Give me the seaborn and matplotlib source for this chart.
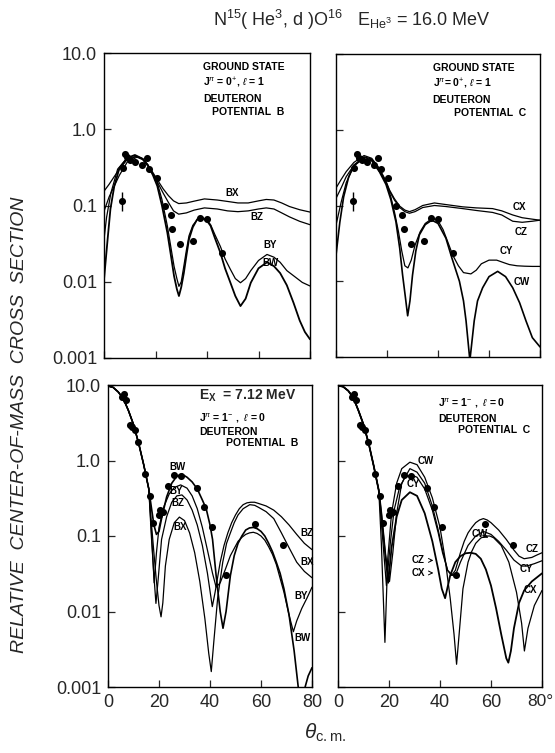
import matplotlib
matplotlib.use("Agg")
import matplotlib.pyplot as plt
import seaborn as sns

###########
# Data    #
###########
# Measured points, ground state (both top panels)
top_theta = [6.8, 7.2, 8.1, 9.1, 10.2, 12.0, 14.8, 16.6, 17.5, 20.5, 23.6, 25.9, 26.5, 29.4, 34.7, 37.2, 40.1, 45.9]
top_sigma = [0.114, 0.31, 0.48, 0.43, 0.40, 0.37, 0.34, 0.42, 0.30, 0.23, 0.098, 0.076, 0.0485, 0.031, 0.034, 0.068, 0.066, 0.0235]
top_err_theta = [6.8]
top_err_lo = [0.084]
top_err_hi = [0.15]

# Measured points, 7.12 MeV state (both bottom panels)
bot_theta = [5.5, 6.1, 7.1, 8.6, 9.6, 10.7, 11.7, 14.6, 16.6, 17.7, 19.9, 20.3, 21.4, 23.4, 25.8, 28.7, 34.8, 37.8, 40.8, 46.2, 57.7, 68.5]
bot_sigma = [6.9, 7.7, 6.3, 2.96, 2.8, 2.5, 1.75, 0.67, 0.34, 0.15, 0.19, 0.22, 0.21, 0.46, 0.65, 0.62, 0.43, 0.24, 0.132, 0.03, 0.145, 0.077]

# Ground state, potential B
gsB_grid = [0, 2, 4, 6, 9, 12.8, 15, 17, 19, 21, 23, 25, 27, 29, 32, 35, 39, 44, 48, 52, 56, 60, 63, 66, 69, 72, 76, 80]
BX_gs = [0.154, 0.19, 0.24, 0.3, 0.40, 0.44, 0.41, 0.34, 0.27, 0.21, 0.165, 0.135, 0.115, 0.106, 0.108, 0.114, 0.122, 0.118, 0.113, 0.108, 0.108, 0.115, 0.12, 0.118, 0.108, 0.097, 0.088, 0.082]
BZ_gs = [0.084, 0.13, 0.18, 0.25, 0.37, 0.43, 0.40, 0.33, 0.26, 0.195, 0.145, 0.11, 0.085, 0.077, 0.08, 0.087, 0.093, 0.09, 0.085, 0.083, 0.085, 0.09, 0.093, 0.09, 0.08, 0.071, 0.062, 0.056]
BY_gs_theta = [0, 1, 2.7, 5.3, 9, 12.5, 15, 17, 19, 20.7, 22.5, 24.6, 26, 27.2, 28.3, 29.1, 30, 31, 32, 33, 34.5, 36.2, 38.1, 40, 41.4, 43, 45.2, 47, 49.1, 51, 53, 55, 57, 60, 63.3, 66, 68.4, 71, 73.6, 77, 80]
BY_gs = [0.036, 0.07, 0.147, 0.30, 0.42, 0.44, 0.41, 0.34, 0.26, 0.198, 0.12, 0.054, 0.028, 0.016, 0.011, 0.0087, 0.010, 0.016, 0.026, 0.04, 0.055, 0.065, 0.069, 0.064, 0.056, 0.042, 0.029, 0.02, 0.0145, 0.011, 0.0097, 0.011, 0.014, 0.019, 0.0228, 0.021, 0.018, 0.014, 0.012, 0.0098, 0.0088]
BW_gs_theta = [0, 1.4, 2.5, 4, 6, 9, 12, 15, 17, 19, 20.7, 22.5, 24.6, 26, 27.2, 28.3, 29.1, 30, 31, 32, 33, 34.5, 36.2, 38.1, 40, 41.4, 43, 45.2, 47, 49.1, 51, 53, 55, 57, 60, 63.3, 66, 68.4, 71, 73.6, 76, 78, 80]
BW_gs = [0.0107, 0.036, 0.09, 0.18, 0.31, 0.42, 0.46, 0.41, 0.34, 0.25, 0.18, 0.1, 0.044, 0.022, 0.0119, 0.008, 0.0065, 0.0085, 0.013, 0.022, 0.036, 0.052, 0.066, 0.069, 0.063, 0.054, 0.038, 0.024, 0.015, 0.0097, 0.0065, 0.0048, 0.006, 0.0097, 0.015, 0.018, 0.016, 0.013, 0.009, 0.0053, 0.0031, 0.0022, 0.00176]

# Ground state, potential C
gsC_grid = [0, 2, 4, 7, 11, 14, 17, 19.6, 21, 22.9, 25, 27, 28.8, 31, 34, 38.6, 43, 49.7, 55, 61.4, 65, 69.3, 73, 77, 80]
CX_gs = [0.17, 0.22, 0.28, 0.37, 0.457, 0.42, 0.31, 0.21, 0.16, 0.123, 0.098, 0.087, 0.083, 0.088, 0.1, 0.108, 0.103, 0.096, 0.093, 0.091, 0.085, 0.075, 0.069, 0.066, 0.064]
CZ_gs = [0.124, 0.17, 0.24, 0.34, 0.44, 0.41, 0.30, 0.205, 0.155, 0.118, 0.094, 0.083, 0.079, 0.083, 0.094, 0.1, 0.097, 0.091, 0.086, 0.081, 0.075, 0.062, 0.06, 0.062, 0.064]
CY_gs_theta = [0, 2, 4, 7, 11, 14, 17, 19.6, 21.5, 23, 24.5, 25.8, 27, 28.2, 29.5, 31, 33, 35, 37.9, 40, 42, 44, 45.8, 48, 50, 52.9, 55, 57, 60, 63, 66, 68, 71, 74, 77, 80]
CY_gs = [0.055, 0.11, 0.2, 0.33, 0.43, 0.40, 0.29, 0.2, 0.13, 0.08, 0.045, 0.025, 0.016, 0.015, 0.019, 0.03, 0.045, 0.058, 0.068, 0.063, 0.048, 0.032, 0.022, 0.016, 0.013, 0.0125, 0.014, 0.017, 0.019, 0.019, 0.0175, 0.0166, 0.016, 0.0158, 0.0157, 0.0157]
CW_gs_theta = [0, 1.5, 3, 5, 7, 10.5, 14, 17, 19.6, 21.5, 23.5, 25, 26.1, 27.2, 28.1, 29, 30, 31.3, 32.7, 35, 37.6, 40, 43.1, 45.5, 48.4, 50, 51, 52.5, 54.2, 55.5, 57.5, 60, 63.4, 66.5, 69.3, 72, 74.5, 77, 80]
CW_gs = [0.022, 0.06, 0.13, 0.24, 0.34, 0.41, 0.39, 0.28, 0.19, 0.12, 0.061, 0.027, 0.0122, 0.0062, 0.0035, 0.0055, 0.012, 0.025, 0.041, 0.056, 0.064, 0.058, 0.037, 0.02, 0.01, 0.0055, 0.003, 0.0009, 0.003, 0.0055, 0.0082, 0.0115, 0.0135, 0.0115, 0.0082, 0.0052, 0.003, 0.0018, 0.00136]

# 7.12 MeV state, potential B (common forward part + tails)
exB_head_theta = [0, 2, 4, 6, 8, 10, 12, 14, 16]
exB_head = [9.7, 9.3, 8.1, 6.6, 4.6, 3.0, 1.7, 0.88, 0.42]
BW_ex_theta = [17, 18, 19, 20, 21, 23, 25, 27, 29, 31, 33, 35, 37, 38.5, 40, 41, 42.4, 44, 45.1, 46.3, 48, 49.5, 51, 52.5, 54, 55.5, 57, 58.5, 60, 61.5, 63, 64.5, 66, 67.5, 69, 71, 73, 74.6, 76, 77.3, 78.5, 80]
BW_ex = [0.24, 0.14, 0.105, 0.115, 0.17, 0.33, 0.5, 0.62, 0.66, 0.6, 0.52, 0.42, 0.3, 0.23, 0.14, 0.09, 0.03, 0.01, 0.006, 0.01, 0.03, 0.055, 0.08, 0.1, 0.12, 0.128, 0.13, 0.125, 0.115, 0.1, 0.08, 0.062, 0.045, 0.032, 0.02, 0.009, 0.003, 0.001, 0.0005, 0.001, 0.0014, 0.0018]
BY_ex_theta = [17, 18.1, 19, 20, 22, 24, 26, 28.5, 31, 33, 35, 37, 39, 41, 42.4, 44, 46, 48, 51, 52.5, 54, 55.5, 57, 58.5, 60, 61.5, 63, 64.5, 66, 69, 71, 72.7, 74, 76, 78, 80]
BY_ex = [0.12, 0.024, 0.06, 0.13, 0.25, 0.36, 0.44, 0.475, 0.43, 0.34, 0.23, 0.13, 0.065, 0.032, 0.021, 0.024, 0.036, 0.055, 0.085, 0.096, 0.105, 0.11, 0.112, 0.108, 0.1, 0.088, 0.072, 0.057, 0.042, 0.018, 0.009, 0.0054, 0.0075, 0.011, 0.015, 0.021]
BZ_ex_theta = [17, 18, 18.8, 19.6, 21, 23, 25, 27, 29, 31, 33, 35, 37, 39, 40.9, 42, 44, 45.5, 47, 48.5, 50, 51.5, 53, 54.5, 56, 57.5, 59, 62, 65, 68, 71, 74, 77, 80]
BZ_ex = [0.1, 0.03, 0.0128, 0.025, 0.09, 0.18, 0.28, 0.34, 0.35, 0.3, 0.22, 0.14, 0.075, 0.032, 0.0116, 0.018, 0.045, 0.075, 0.11, 0.15, 0.19, 0.23, 0.26, 0.275, 0.28, 0.28, 0.27, 0.25, 0.22, 0.18, 0.14, 0.105, 0.08, 0.066]
BX_ex_theta = [17, 18, 19, 20, 20.8, 21.5, 22.5, 24, 26, 28, 30, 32, 34, 36, 38, 39.5, 40.5, 41.5, 43, 45, 46.5, 48, 49.5, 51, 53, 55.6, 57.5, 59, 62, 65, 68, 71, 74, 77, 80]
BX_ex = [0.15, 0.06, 0.025, 0.012, 0.0085, 0.013, 0.04, 0.09, 0.15, 0.178, 0.16, 0.11, 0.06, 0.025, 0.008, 0.0028, 0.0016, 0.004, 0.015, 0.045, 0.08, 0.11, 0.15, 0.19, 0.23, 0.26, 0.255, 0.24, 0.21, 0.17, 0.11, 0.07, 0.045, 0.034, 0.028]

# 7.12 MeV state, potential C
exC_head_theta = [0, 2, 4, 6, 8, 10, 12, 14, 16]
exC_head = [9.8, 9.5, 8.4, 6.8, 4.6, 3.0, 1.7, 0.85, 0.4]
CW_ex_theta = [17, 18.4, 19.5, 21, 23, 25, 28.2, 31, 34, 37, 40, 42, 44, 45.5, 46.5, 47.5, 49, 51, 52.5, 54, 56, 58, 59.5, 61, 64, 67, 70, 72, 73.1, 74.5, 77, 80]
CW_ex = [0.08, 0.0039, 0.05, 0.2, 0.5, 0.78, 0.95, 0.88, 0.6, 0.32, 0.13, 0.05, 0.015, 0.005, 0.002, 0.005, 0.02, 0.045, 0.063, 0.08, 0.094, 0.1, 0.1, 0.095, 0.075, 0.045, 0.018, 0.007, 0.003, 0.006, 0.012, 0.019]
CZ_ex_theta = [17, 18.5, 20.2, 21.5, 23, 25, 28.2, 31, 34, 37, 39.3, 41, 43, 44.5, 46, 48, 49.5, 51, 52.5, 54, 55.5, 57, 58.5, 60, 63, 66, 69, 71, 73, 76, 78, 80]
CZ_ex = [0.2, 0.06, 0.025, 0.06, 0.2, 0.5, 0.78, 0.7, 0.5, 0.25, 0.12, 0.065, 0.035, 0.03, 0.035, 0.06, 0.085, 0.11, 0.13, 0.15, 0.163, 0.17, 0.163, 0.15, 0.12, 0.09, 0.065, 0.054, 0.05, 0.052, 0.056, 0.06]
CY_ex_theta = [17, 19, 20.5, 22, 24, 26, 28.5, 31, 34, 37, 39.3, 41, 43, 45, 46.5, 48, 51, 54, 57, 60, 63, 66, 69, 72, 74, 77, 80]
CY_ex = [0.15, 0.022, 0.08, 0.22, 0.42, 0.58, 0.65, 0.6, 0.42, 0.22, 0.11, 0.06, 0.035, 0.03, 0.033, 0.045, 0.075, 0.1, 0.115, 0.105, 0.085, 0.065, 0.048, 0.04, 0.04, 0.043, 0.047]
CX_ex_theta = [17, 18.5, 19.7, 21, 23, 25, 28.2, 31, 34, 37, 39.3, 40.7, 42, 44, 46, 48, 50, 52, 54, 56, 58, 60, 62, 64, 66, 66.8, 67.8, 69, 71, 73, 76, 80]
CX_ex = [0.2, 0.06, 0.024, 0.07, 0.18, 0.3, 0.38, 0.34, 0.2, 0.085, 0.036, 0.02, 0.015, 0.03, 0.045, 0.054, 0.059, 0.06, 0.058, 0.05, 0.036, 0.022, 0.011, 0.005, 0.0024, 0.0021, 0.003, 0.006, 0.013, 0.019, 0.025, 0.032]

y_ticks = [0.001, 0.01, 0.1, 1.0, 10.0]
y_ticklabels = ['0.001', '0.01', '0.1', '1.0', '10.0']
x_ticks = [0, 20, 40, 60, 80]


#################
# Figure set-up #
#################
sns.set_style('ticks')
plt.rcParams['font.family'] = ['Liberation Sans', 'DejaVu Sans']
plt.rcParams['mathtext.fontset'] = 'custom'
plt.rcParams['mathtext.rm'] = 'Liberation Sans'
plt.rcParams['mathtext.it'] = 'Liberation Sans:italic'
plt.rcParams['mathtext.bf'] = 'Liberation Sans:bold'

fig = plt.figure(figsize=(5.55, 7.53), dpi=100)
W, H = 555, 753


def px_axes(x0, y0, x1, y1):
    # axes from pixel box (top-left origin)
    return fig.add_axes([x0 / W, (H - y1) / H, (x1 - x0) / W, (y1 - y0) / H])


ax_tl = px_axes(104, 53, 310, 358)
ax_tr = px_axes(336, 54, 540, 357)
ax_bl = px_axes(108, 385, 312, 687)
ax_br = px_axes(338, 385, 542, 687)


def draw_curve(ax, th, val, lw=0.9):
    sns.lineplot(x=th, y=val, ax=ax, color='black', linewidth=lw,
                 estimator=None, sort=False)


def style_axes(ax, ylabels, xlabels):
    ax.set_yscale('log')
    ax.set_xlim(0, 80)
    ax.set_ylim(0.001, 10)
    ax.minorticks_off()
    ax.set_yticks(y_ticks)
    ax.set_xticks(x_ticks)
    ax.tick_params(direction='in', length=5, width=0.9, labelsize=13,
                   top=False, right=False, pad=5)
    if ylabels:
        ax.set_yticklabels(y_ticklabels)
    else:
        ax.set_yticklabels([])
    if xlabels == 'deg':
        # last label drawn separately with a degree sign
        ax.set_xticklabels(['0', '20', '40', '60', ''])
    elif xlabels:
        ax.set_xticklabels(['0', '20', '40', '60', '80'])
    else:
        ax.set_xticklabels([])
    for sp in ax.spines.values():
        sp.set_visible(True)
        sp.set_linewidth(1.0)
        sp.set_color('black')
    ax.set_xlabel('')
    ax.set_ylabel('')


lab_kw = dict(fontsize=7.5, fontweight='bold', color='black')
curve_kw = dict(fontsize=7, fontweight='bold', color='black', ha='center', va='center')

##################
# Top-left panel #
##################
ax = ax_tl
draw_curve(ax, gsB_grid, BX_gs)
draw_curve(ax, gsB_grid, BZ_gs)
draw_curve(ax, BY_gs_theta, BY_gs)
draw_curve(ax, BW_gs_theta, BW_gs, lw=1.3)
sns.scatterplot(x=top_theta, y=top_sigma, ax=ax, color='black', s=26, linewidth=0, zorder=3)
ax.vlines(top_err_theta, top_err_lo, top_err_hi, color='black', linewidth=1)
style_axes(ax, True, False)
ax.text(0.48, 0.954, 'GROUND STATE', transform=ax.transAxes, va='center', **lab_kw)
ax.text(0.48, 0.902, r'J$^{\pi}$ = 0$^{+}$, $\ell$ = 1', transform=ax.transAxes, va='center', **lab_kw)
ax.text(0.48, 0.848, 'DEUTERON', transform=ax.transAxes, va='center', **lab_kw)
ax.text(0.523, 0.805, 'POTENTIAL  B', transform=ax.transAxes, va='center', **lab_kw)
ax.text(49.7, 0.145, 'BX', **curve_kw)
ax.text(59.4, 0.07, 'BZ', **curve_kw)
ax.text(64.6, 0.03, 'BY', **curve_kw)
ax.text(64.8, 0.0175, 'BW', **curve_kw)

###################
# Top-right panel #
###################
ax = ax_tr
draw_curve(ax, gsC_grid, CX_gs)
draw_curve(ax, gsC_grid, CZ_gs)
draw_curve(ax, CY_gs_theta, CY_gs)
draw_curve(ax, CW_gs_theta, CW_gs, lw=1.2)
sns.scatterplot(x=top_theta, y=top_sigma, ax=ax, color='black', s=26, linewidth=0, zorder=3)
ax.vlines(top_err_theta, top_err_lo, top_err_hi, color='black', linewidth=1)
style_axes(ax, False, False)
ax.text(0.474, 0.954, 'GROUND STATE', transform=ax.transAxes, va='center', **lab_kw)
ax.text(0.474, 0.902, r'J$^{\pi}$= 0$^{+}$, $\ell$ = 1', transform=ax.transAxes, va='center', **lab_kw)
ax.text(0.474, 0.848, 'DEUTERON', transform=ax.transAxes, va='center', **lab_kw)
ax.text(0.578, 0.805, 'POTENTIAL  C', transform=ax.transAxes, va='center', **lab_kw)
ax.text(72.0, 0.095, 'CX', **curve_kw)
ax.text(72.5, 0.045, 'CZ', **curve_kw)
ax.text(67.0, 0.025, 'CY', **curve_kw)
ax.text(73.0, 0.0097, 'CW', **curve_kw)

#####################
# Bottom-left panel #
#####################
ax = ax_bl
draw_curve(ax, exB_head_theta + BW_ex_theta, exB_head + BW_ex, lw=1.2)
draw_curve(ax, exB_head_theta + BY_ex_theta, exB_head + BY_ex)
draw_curve(ax, exB_head_theta + BZ_ex_theta, exB_head + BZ_ex)
draw_curve(ax, exB_head_theta + BX_ex_theta, exB_head + BX_ex)
sns.scatterplot(x=bot_theta, y=bot_sigma, ax=ax, color='black', s=26, linewidth=0, zorder=3)
style_axes(ax, True, True)
ax.text(0.447, 0.963, r'E$_{\mathregular{X}}$  = 7.12 MeV', transform=ax.transAxes, va='center',
        fontsize=10, fontweight='bold')
ax.text(0.447, 0.89, r'J$^{\pi}$ = 1$^{-}$ ,  $\ell$ = 0', transform=ax.transAxes, va='center', **lab_kw)
ax.text(0.447, 0.843, 'DEUTERON', transform=ax.transAxes, va='center', **lab_kw)
ax.text(0.577, 0.808, 'POTENTIAL  B', transform=ax.transAxes, va='center', **lab_kw)
ax.text(27.3, 0.81, 'BW', **curve_kw)
ax.text(26.7, 0.39, 'BY', **curve_kw)
ax.text(27.3, 0.27, 'BZ', **curve_kw)
ax.text(28.3, 0.13, 'BX', **curve_kw)
ax.text(78.0, 0.11, 'BZ', **curve_kw)
ax.text(78.0, 0.045, 'BX', **curve_kw)
ax.text(75.6, 0.016, 'BY', **curve_kw)
ax.text(76.3, 0.0044, 'BW', **curve_kw)

######################
# Bottom-right panel #
######################
ax = ax_br
draw_curve(ax, exC_head_theta + CW_ex_theta, exC_head + CW_ex)
draw_curve(ax, exC_head_theta + CZ_ex_theta, exC_head + CZ_ex)
draw_curve(ax, exC_head_theta + CY_ex_theta, exC_head + CY_ex)
draw_curve(ax, exC_head_theta + CX_ex_theta, exC_head + CX_ex, lw=1.3)
sns.scatterplot(x=bot_theta, y=bot_sigma, ax=ax, color='black', s=26, linewidth=0, zorder=3)
style_axes(ax, False, 'deg')
# "80°" as one text, nudged so the degree sign stays inside the figure
ax.text(0.99, -0.023, '80\u00b0', transform=ax.transAxes, ha='center', va='top', fontsize=12.5)
ax.text(0.492, 0.939, r'J$^{\pi}$ = 1$^{-}$ ,  $\ell$ = 0', transform=ax.transAxes, va='center', **lab_kw)
ax.text(0.492, 0.886, 'DEUTERON', transform=ax.transAxes, va='center', **lab_kw)
ax.text(0.59, 0.851, 'POTENTIAL  C', transform=ax.transAxes, va='center', **lab_kw)
ax.text(34.5, 1.0, 'CW', **curve_kw)
ax.text(29.5, 0.485, 'CY', **curve_kw)
arrow_kw = dict(arrowstyle='->', color='black', lw=0.7)
ax.annotate('CZ', xy=(38.5, 0.0475), xytext=(31.5, 0.0475), arrowprops=arrow_kw, **curve_kw)
ax.annotate('CX', xy=(38.5, 0.0324), xytext=(31.5, 0.0324), arrowprops=arrow_kw, **curve_kw)
ax.annotate('CW', xy=(60.0, 0.092), xytext=(55.7, 0.106), arrowprops=arrow_kw, **curve_kw)
ax.text(76.0, 0.067, 'CZ', **curve_kw)
ax.text(74.0, 0.036, 'CY', **curve_kw)
ax.text(75.3, 0.019, 'CX', **curve_kw)

###############
# Fig. labels #
###############
fig.text(352 / W, 1 - 20 / H,
         r'N$^{15}$( He$^{3}$, d )O$^{16}$   E$_{\mathregular{He}^{3}}$ = 16.0 MeV',
         ha='center', va='center', fontsize=13)
fig.text(20 / W, 1 - 425 / H, 'RELATIVE  CENTER-OF-MASS  CROSS  SECTION',
         rotation=90, ha='center', va='center', fontsize=14, fontstyle='italic')
fig.text(325 / W, 1 - 733 / H, r'$\theta_{\mathregular{c.m.}}$', ha='center', va='center', fontsize=15)

fig.savefig('out.png', dpi=100)
